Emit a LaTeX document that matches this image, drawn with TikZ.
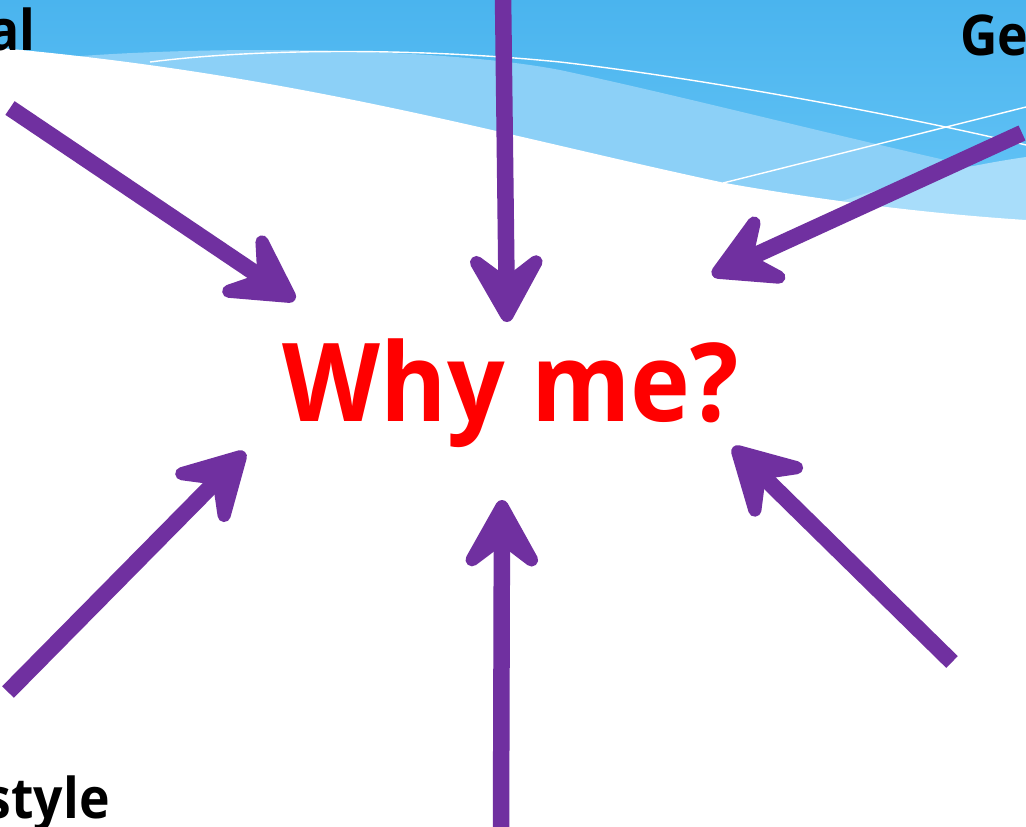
\documentclass[tikz,border=0pt]{standalone}
\usepackage{fontspec}
\setmainfont{Open Sans}
\usetikzlibrary{arrows.meta}
\definecolor{skyA}{RGB}{74,180,238}
\definecolor{skyB}{RGB}{104,198,247}
\definecolor{skyC}{RGB}{140,208,247}
\definecolor{skyD}{RGB}{168,221,250}
\definecolor{whypurple}{RGB}{112,48,160}

\begin{document}
\begin{tikzpicture}[x=0.02cm,y=-0.02cm,
    arr/.style={whypurple,line width=0.33cm,-{Stealth[length=1.8cm,width=2.0cm,inset=0.75cm,round]}},
    lbl/.style={font=\fontsize{32}{38}\selectfont\bfseries,inner sep=0pt,xscale=0.92}]
    \useasboundingbox (0,0) rectangle (1026,826);
    \clip (0,0) rectangle (1026,826);
    \shade[top color=skyA,bottom color=skyB] (0,0) rectangle (1026,240);
    \fill[skyC] (0,64) .. controls (150,44) and (430,45) .. (560,70) .. controls (700,100) and (850,140) .. (1026,178) -- (1026,300) -- (0,300) -- cycle;
    \fill[skyD] (800,215) .. controls (900,180) and (970,165) .. (1026,157) -- (1026,300) -- (800,300) -- cycle;
    \fill[white] (0,48) .. controls (300,75) and (500,135) .. (725,183) .. controls (850,205) and (950,215) .. (1026,220) -- (1026,826) -- (0,826) -- cycle;
    \draw[white,line width=0.8pt] (150,62) .. controls (260,48) and (420,48) .. (560,62) .. controls (700,78) and (900,115) .. (1026,145);
    \draw[white,line width=0.8pt] (723,183) -- (1026,107);
    \node[lbl,anchor=base east] (lblA) at (36,50) {al};
    \node[lbl,anchor=base west] (lblG) at (960,55) {Ge};
    \node[lbl,anchor=base east] (lblS) at (110,818) {style};
    \node[red,font=\fontsize{62}{70}\selectfont\bfseries,inner sep=0pt,anchor=base,xscale=0.93] (why) at (511,421) {Why me?};
    \foreach \n/\sx/\sy/\tx/\ty in {1/10/108/295/300, 2/503/-5/507/322, 3/1022/133/712/275,
        4/8/692/245/452, 5/501/830/502/500, 6/952/662/733/447}
      {\coordinate (tail\n) at (\sx,\sy);
       \coordinate (tip\n) at (\tx,\ty);
       \draw[arr] (tail\n) -- (tip\n);}
\end{tikzpicture}
\end{document}
